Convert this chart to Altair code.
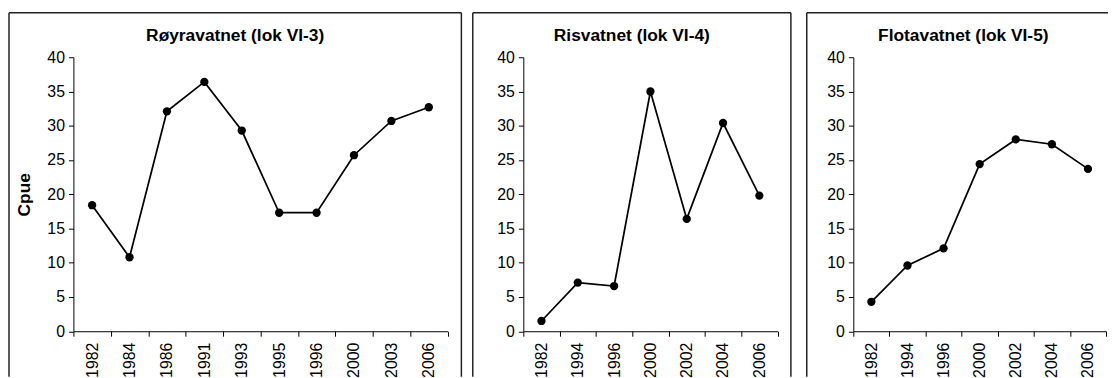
import altair as alt
import pandas as pd

# ---- data ----
years1 = ["1982", "1984", "1986", "1991", "1993", "1995", "1996", "2000", "2003", "2006"]
cpue1 = [18.4, 10.8, 32.1, 36.4, 29.3, 17.3, 17.3, 25.7, 30.7, 32.7]

years2 = ["1982", "1994", "1996", "2000", "2002", "2004", "2006"]
cpue2 = [1.5, 7.1, 6.6, 35.0, 16.4, 30.4, 19.8]

years3 = ["1982", "1994", "1996", "2000", "2002", "2004", "2006"]
cpue3 = [4.3, 9.6, 12.1, 24.4, 28.0, 27.3, 23.7]

titles = ["Røyravatnet (lok VI-3)", "Risvatnet (lok VI-4)", "Flotavatnet (lok VI-5)"]
y_title = "Cpue"
y_ticks = [0, 5, 10, 15, 20, 25, 30, 35, 40]

FONT = "Liberation Sans"
H = 276.5
BORDER_TOP = -45
BORDER_BOTTOM = H + 46
BORDER_COLOR = "#222222"


def panel(years, values, title, width, left, right, ytitle):
    df = pd.DataFrame({"year": years, "cpue": values})
    one = pd.DataFrame({"k": [0]})
    tdf = pd.DataFrame({"t": [title]})

    x = alt.X(
        "year:N",
        sort=years,
        scale=alt.Scale(type="band", paddingInner=0, paddingOuter=0),
        axis=alt.Axis(title=None, labelAngle=270, tickBand="extent", labelPadding=6),
    )
    if ytitle:
        y_axis = alt.Axis(values=y_ticks, title=ytitle, titlePadding=13,
                          titleFontSize=17.5, titleFontWeight="bold", labelPadding=4)
    else:
        y_axis = alt.Axis(values=y_ticks, title=None, labelPadding=4)
    y = alt.Y("cpue:Q", scale=alt.Scale(domain=[0, 40], nice=False), axis=y_axis)

    right_edge = right if right is not None else width + 14
    layers = [
        alt.Chart(one).mark_rule(color=BORDER_COLOR, strokeWidth=1.5).encode(
            x=alt.value(left), y=alt.value(BORDER_TOP), y2=alt.value(BORDER_BOTTOM)
        ),
        alt.Chart(one).mark_rule(color=BORDER_COLOR, strokeWidth=1.5).encode(
            x=alt.value(left),
            x2=alt.value(right_edge if right is not None else width + 2),
            y=alt.value(BORDER_TOP),
        ),
    ]
    if right is not None:
        layers.append(
            alt.Chart(one).mark_rule(color=BORDER_COLOR, strokeWidth=1.5).encode(
                x=alt.value(right), y=alt.value(BORDER_TOP), y2=alt.value(BORDER_BOTTOM)
            )
        )
    layers.append(
        alt.Chart(tdf).mark_text(
            font=FONT, fontSize=17.5, fontWeight="bold", color="black",
            align="center", baseline="alphabetic",
        ).encode(
            x=alt.value((left + right_edge) / 2), y=alt.value(-16), text="t:N"
        )
    )
    base = alt.Chart(df).encode(x=x, y=y)
    layers.append(base.mark_line(color="black", strokeWidth=1.75))
    layers.append(base.mark_circle(color="black", size=70, opacity=1))

    return alt.layer(*layers).properties(width=width, height=H)


p1 = panel(years1, cpue1, titles[0], 377.5, -65, 391.5, y_title)
p2 = panel(years2, cpue2, titles[1], 256.5, -51, 270, None)
p3 = panel(years3, cpue3, titles[2], 255, -47, None, None)

chart = (
    alt.hconcat(p1, p2, p3, spacing=76, bounds="flush")
    .properties(padding={"left": 0, "top": 2, "right": 0, "bottom": 0})
    .configure(font=FONT)
    .configure_view(strokeOpacity=0)
    .configure_axis(
        grid=False,
        domainColor="black",
        domainWidth=1,
        tickColor="black",
        tickWidth=1,
        tickSize=5,
        labelColor="black",
        labelFont=FONT,
        labelFontSize=16,
        titleColor="black",
        titleFont=FONT,
    )
)

chart.save("out.html", embed_options={"renderer": "svg", "actions": False})
